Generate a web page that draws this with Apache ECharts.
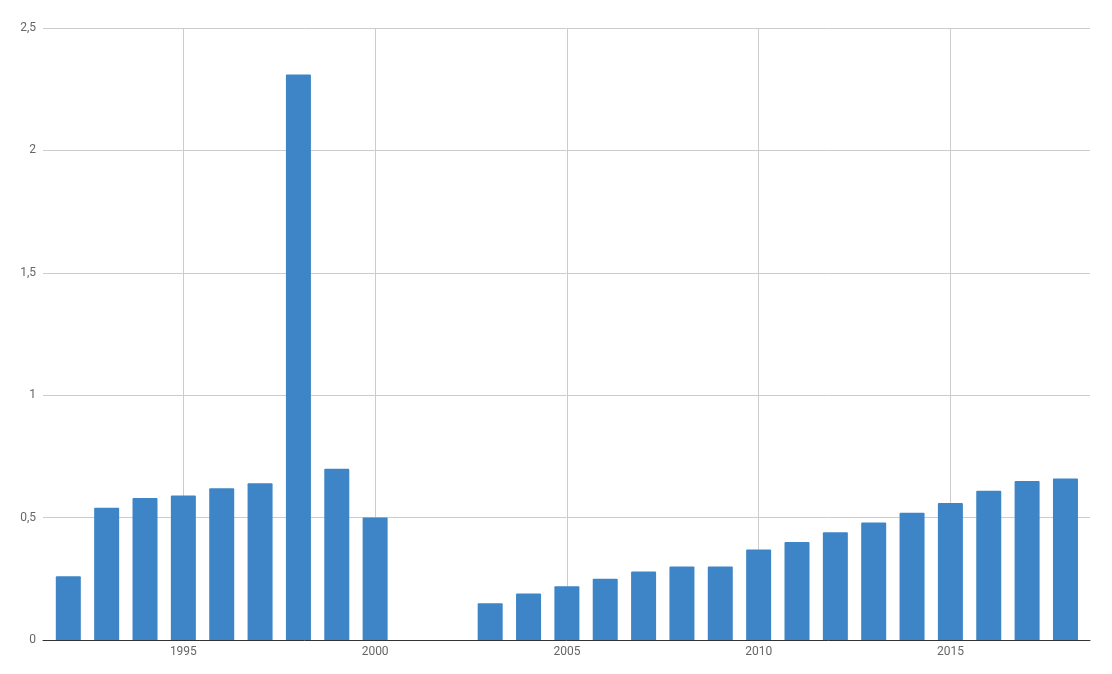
<!DOCTYPE html>
<html>
<head>
<meta charset="utf-8">
<script src="https://cdn.jsdelivr.net/npm/echarts@6/dist/echarts.min.js"></script>
<style>
html,body{margin:0;padding:0;background:#fff;}
#chart{width:1112px;height:674px;}
</style>
</head>
<body>
<div id="chart"></div>
<script>
const years = [1992,1993,1994,1995,1996,1997,1998,1999,2000,2003,2004,2005,2006,2007,2008,2009,2010,2011,2012,2013,2014,2015,2016,2017,2018];
const values = [0.26,0.54,0.58,0.59,0.62,0.64,2.31,0.70,0.50,0.15,0.19,0.22,0.25,0.28,0.30,0.30,0.37,0.40,0.44,0.48,0.52,0.56,0.61,0.65,0.66];
const xTicks = [1995,2000,2005,2010,2015];
const yTicks = [0,0.5,1,1.5,2,2.5];

const chart = echarts.init(document.getElementById('chart'), null, {renderer:'canvas'});
chart.setOption({
  animation:false,
  backgroundColor:'#ffffff',
  textStyle:{fontFamily:'Roboto'},
  grid:{left:43,right:22,top:28,bottom:34,containLabel:false},
  xAxis:{
    type:'value',
    min:1991.34,
    max:2018.64,
    axisLine:{show:true,lineStyle:{color:'#333333',width:1}},
    axisTick:{show:false,customValues:xTicks},
    axisLabel:{customValues:xTicks,color:'#666666',fontSize:12,margin:6,formatter:v=>String(v)},
    splitLine:{show:true,lineStyle:{color:'#cccccc',width:1}}
  },
  yAxis:{
    type:'value',
    min:yTicks[0],
    max:yTicks[yTicks.length-1],
    interval:0.5,
    axisLine:{show:false},
    axisTick:{show:false},
    axisLabel:{color:'#666666',fontSize:12,margin:7,formatter:v=>String(v).replace('.',',')},
    splitLine:{show:true,lineStyle:{color:'#cccccc',width:1}}
  },
  series:[{
    type:'bar',
    data:years.map((y,i)=>[y,values[i]]),
    barWidth:25,
    itemStyle:{color:'#3d85c6',borderRadius:[1,1,0,0]},
    z:3
  }]
});
</script>
</body>
</html>
